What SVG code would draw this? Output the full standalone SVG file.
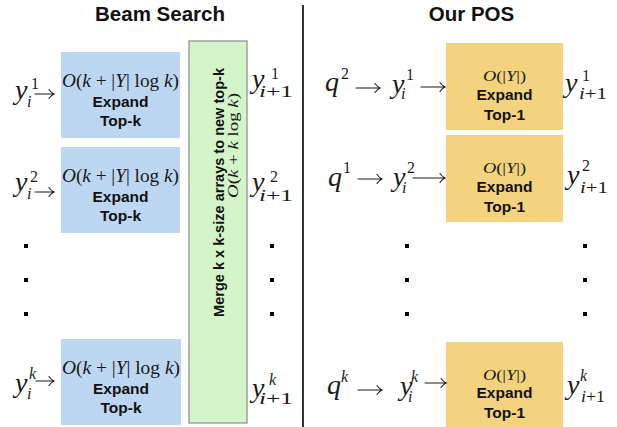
<svg xmlns="http://www.w3.org/2000/svg" width="617" height="427" viewBox="0 0 617 427">
<style>
.m{font-family:"Liberation Serif","DejaVu Serif",serif;fill:#1a1a1a}
.i{font-style:italic}
.v{font-size:28px}
.s{font-size:16px}
.b{font-family:"Liberation Sans",Arial,sans-serif;font-weight:bold;fill:#111}
.t{font-size:20.5px}
.l{font-size:15.5px}
.blue{fill:#bdd7f2}
.org{fill:#f3d37d}
.dot{fill:#000}
.arr{fill:none;stroke:#1a1a1a;stroke-width:1.1;stroke-linecap:round}
</style>
<rect width="617" height="427" fill="#fff"/>
<text class="b t" x="160" y="21" text-anchor="middle">Beam Search</text>
<text class="b t" x="471.5" y="21" text-anchor="middle">Our POS</text>
<g id="divider"><line x1="303" y1="5" x2="303" y2="427" stroke="#000" stroke-width="1.6"/></g>

<g id="beam-expand-1">
<rect class="blue" x="61" y="52" width="119" height="86"/>
<text class="m" x="62" y="87" font-size="19" textLength="117" lengthAdjust="spacingAndGlyphs"><tspan class="i">O</tspan>(<tspan class="i">k</tspan> + |<tspan class="i">Y</tspan>| log <tspan class="i">k</tspan>)</text>
<text class="b l" x="120.5" y="107" text-anchor="middle">Expand</text>
<text class="b l" x="120.5" y="126" text-anchor="middle">Top-k</text>
</g>
<g id="beam-expand-2">
<rect class="blue" x="61" y="147" width="119" height="86"/>
<text class="m" x="62" y="182" font-size="19" textLength="117" lengthAdjust="spacingAndGlyphs"><tspan class="i">O</tspan>(<tspan class="i">k</tspan> + |<tspan class="i">Y</tspan>| log <tspan class="i">k</tspan>)</text>
<text class="b l" x="120.5" y="202" text-anchor="middle">Expand</text>
<text class="b l" x="120.5" y="221" text-anchor="middle">Top-k</text>
</g>
<g id="beam-expand-k">
<rect class="blue" x="61" y="339" width="120" height="86"/>
<text class="m" x="62" y="374" font-size="19" textLength="118" lengthAdjust="spacingAndGlyphs"><tspan class="i">O</tspan>(<tspan class="i">k</tspan> + |<tspan class="i">Y</tspan>| log <tspan class="i">k</tspan>)</text>
<text class="b l" x="121" y="394" text-anchor="middle">Expand</text>
<text class="b l" x="121" y="413" text-anchor="middle">Top-k</text>
</g>
<g id="merge">
<rect x="189" y="41" width="58" height="382" fill="#d3f5c9" stroke="#8c8c8c" stroke-width="1.2"/>
<text class="b" font-size="14" transform="translate(224,192.5) rotate(-90)" text-anchor="middle" textLength="249" lengthAdjust="spacingAndGlyphs">Merge k x k-size arrays to new top-k</text>
<text class="m" font-size="14.5" transform="translate(238,145.5) rotate(-90)" text-anchor="middle" textLength="105" lengthAdjust="spacingAndGlyphs"><tspan class="i">O</tspan>(<tspan class="i">k</tspan> + <tspan class="i">k</tspan> log <tspan class="i">k</tspan>)</text>
</g>

<g id="pos-expand-1">
<rect class="org" x="446" y="43" width="117" height="87"/>
<text class="m" x="504.5" y="81" font-size="15" text-anchor="middle" textLength="43" lengthAdjust="spacingAndGlyphs"><tspan class="i">O</tspan>(|<tspan class="i">Y</tspan>|)</text>
<text class="b l" x="504.5" y="100" text-anchor="middle">Expand</text>
<text class="b l" x="504.5" y="120" text-anchor="middle">Top-1</text>
</g>
<g id="pos-expand-2">
<rect class="org" x="446" y="135" width="117" height="87"/>
<text class="m" x="504.5" y="173" font-size="15" text-anchor="middle" textLength="43" lengthAdjust="spacingAndGlyphs"><tspan class="i">O</tspan>(|<tspan class="i">Y</tspan>|)</text>
<text class="b l" x="504.5" y="192" text-anchor="middle">Expand</text>
<text class="b l" x="504.5" y="212" text-anchor="middle">Top-1</text>
</g>
<g id="pos-expand-k">
<rect class="org" x="446" y="342" width="117" height="87"/>
<text class="m" x="504.5" y="380" font-size="15" text-anchor="middle" textLength="43" lengthAdjust="spacingAndGlyphs"><tspan class="i">O</tspan>(|<tspan class="i">Y</tspan>|)</text>
<text class="b l" x="504.5" y="398" text-anchor="middle">Expand</text>
<text class="b l" x="504.5" y="418" text-anchor="middle">Top-1</text>
</g>

<g id="beam-inputs">
<text class="m i v" x="15" y="99">y</text><text class="m s" x="31" y="89">1</text><text class="m i s" x="27" y="107">i</text>
<text class="m i v" x="15" y="191">y</text><text class="m s" x="30" y="182">2</text><text class="m i s" x="27" y="199">i</text>
<text class="m i v" x="15" y="392">y</text><text class="m i s" x="29" y="379">k</text><text class="m i s" x="27" y="399">i</text>
</g>
<g id="beam-outputs">
<text class="m i v" x="252" y="88">y</text><text class="m s" x="271" y="79">1</text><text class="m s" x="259" y="97" textLength="34" lengthAdjust="spacingAndGlyphs"><tspan class="i">i</tspan>+1</text>
<text class="m i v" x="252" y="191">y</text><text class="m s" x="270" y="182">2</text><text class="m s" x="259" y="201" textLength="34" lengthAdjust="spacingAndGlyphs"><tspan class="i">i</tspan>+1</text>
<text class="m i v" x="252" y="397">y</text><text class="m i s" x="269" y="385">k</text><text class="m s" x="259" y="404" textLength="34" lengthAdjust="spacingAndGlyphs"><tspan class="i">i</tspan>+1</text>
</g>
<g id="pos-inputs">
<text class="m i v" x="325" y="91">q</text><text class="m s" x="341" y="79">2</text>
<text class="m i v" x="392" y="93">y</text><text class="m s" x="406" y="80">1</text><text class="m i s" x="401" y="99">i</text>
<text class="m i v" x="328" y="186">q</text><text class="m s" x="343" y="173">1</text>
<text class="m i v" x="393" y="186">y</text><text class="m s" x="407" y="173">2</text><text class="m i s" x="402" y="193">i</text>
<text class="m i v" x="327" y="394">q</text><text class="m i s" x="341" y="382">k</text>
<text class="m i v" x="400" y="395">y</text><text class="m i s" x="411" y="382">k</text><text class="m i s" x="408" y="402">i</text>
</g>
<g id="pos-outputs">
<text class="m i v" x="565" y="92">y</text><text class="m s" x="582" y="81">1</text><text class="m s" x="579" y="99" textLength="28" lengthAdjust="spacingAndGlyphs"><tspan class="i">i</tspan>+1</text>
<text class="m i v" x="567" y="184">y</text><text class="m s" x="582" y="171">2</text><text class="m s" x="580" y="193" textLength="28" lengthAdjust="spacingAndGlyphs"><tspan class="i">i</tspan>+1</text>
<text class="m i v" x="567" y="394">y</text><text class="m i s" x="580" y="381">k</text><text class="m s" x="581" y="402" textLength="24" lengthAdjust="spacingAndGlyphs"><tspan class="i">i</tspan>+1</text>
</g>
<g id="connectors">
<path class="arr" d="M35 94H54M49 89.5Q51 92.5 54 94Q51 95.5 49 98.5"/>
<path class="arr" d="M35 192H54M49 187.5Q51 190.5 54 192Q51 193.5 49 196.5"/>
<path class="arr" d="M36 381H54M49 376.5Q51 379.5 54 381Q51 382.5 49 385.5"/>
<path class="arr" d="M356 88H380M375 83.5Q377 86.5 380 88Q377 89.5 375 92.5"/>
<path class="arr" d="M421 87H445M440 82.5Q442 85.5 445 87Q442 88.5 440 91.5"/>
<path class="arr" d="M358 179H382M377 174.5Q379 177.5 382 179Q379 180.5 377 183.5"/>
<path class="arr" d="M413 178H445M440 173.5Q442 176.5 445 178Q442 179.5 440 182.5"/>
<path class="arr" d="M358 390H382M377 385.5Q379 388.5 382 390Q379 391.5 377 394.5"/>
<path class="arr" d="M425 383H446M441 378.5Q443 381.5 446 383Q443 384.5 441 387.5"/>
</g>
<g id="ellipses">
<rect class="dot" x="24" y="244" width="4" height="4"/><rect class="dot" x="24" y="278" width="4" height="4"/><rect class="dot" x="24" y="312" width="4" height="4"/>
<rect class="dot" x="270" y="244" width="4" height="4"/><rect class="dot" x="270" y="278" width="4" height="4"/><rect class="dot" x="270" y="312" width="4" height="4"/>
<rect class="dot" x="405" y="244" width="4" height="4"/><rect class="dot" x="405" y="278" width="4" height="4"/><rect class="dot" x="405" y="312" width="4" height="4"/>
<rect class="dot" x="583" y="244" width="4" height="4"/><rect class="dot" x="583" y="278" width="4" height="4"/><rect class="dot" x="583" y="312" width="4" height="4"/>
</g>
</svg>
